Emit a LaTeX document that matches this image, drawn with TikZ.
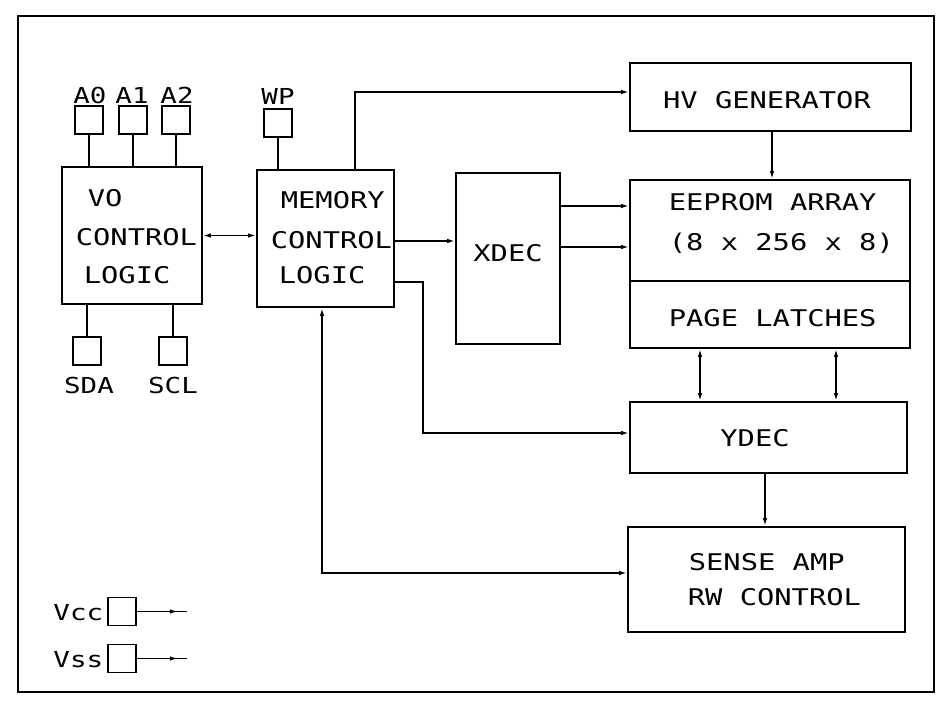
\documentclass[tikz,border=0pt]{standalone}
\usepackage{fontspec}
\newfontfamily\plotfont[FakeStretch=1.25]{DejaVu Sans Mono}
\usetikzlibrary{arrows.meta,decorations.markings}
\begin{document}
\begin{tikzpicture}[x=1pt,y=-1pt,
  line width=1.7pt,
  blk/.style={draw,rectangle,inner sep=0pt},
  pad/.style={draw,rectangle,inner sep=0pt,minimum width=28pt,minimum height=28pt},
  txt/.style={inner sep=0pt,text height=16.5pt,text depth=0pt,font=\plotfont\fontsize{23}{27}\selectfont},
  lbl/.style={inner sep=0pt,text height=16pt,text depth=0pt,font=\plotfont\fontsize{22}{26}\selectfont},
  arr/.style={-{Latex[length=8pt,width=4.5pt]}},
  barr/.style={{Latex[length=8pt,width=4.5pt]}-{Latex[length=8pt,width=4.5pt]}},
  midarr/.style={postaction={decorate},decoration={markings,mark=at position 0.82 with {\arrow{Latex[length=8pt,width=4.5pt]}}}}]
\useasboundingbox (0,0) rectangle (937,704);
\fill[white] (0,0) rectangle (937,704);
% outer frame
\draw (18,16) rectangle (934,692);

% blocks
\node[blk,minimum width=140pt,minimum height=137pt] (vo) at (132,235.5) {};
\node[blk,minimum width=137pt,minimum height=137pt] (mcl) at (325.5,238.5) {};
\node[blk,minimum width=104pt,minimum height=171pt] (xdec) at (508,258.5) {};
\node[blk,minimum width=281pt,minimum height=68pt] (hv) at (770.5,97) {};
\node[blk,minimum width=280pt,minimum height=101pt] (eep) at (770,230.5) {};
\node[blk,minimum width=280pt,minimum height=67pt] (pl) at (770,314.5) {};
\node[blk,minimum width=277pt,minimum height=71pt] (ydec) at (768.5,437.5) {};
\node[blk,minimum width=277pt,minimum height=105pt] (sense) at (766.5,579.5) {};

% pads
\node[pad] (a0) at (89,120) {};
\node[pad] (a1) at (133,120) {};
\node[pad] (a2) at (176,120) {};
\node[pad] (wp) at (278,123) {};
\node[pad] (sda) at (87,351) {};
\node[pad] (scl) at (173,351) {};
\node[pad] (vcc) at (122,611.5) {};
\node[pad] (vss) at (122,658.5) {};

% texts
\node[txt,anchor=west] (t1) at (87,198) {VO};
\node[txt,anchor=west] (t2) at (75,237) {CONTROL};
\node[txt,anchor=west] (t3) at (83,275) {LOGIC};
\node[txt,anchor=west] (t4) at (280,200) {MEMORY};
\node[txt,anchor=west] (t5) at (270,240) {CONTROL};
\node[txt,anchor=west] (t6) at (278,275) {LOGIC};
\node[txt] (t7) at (508,253) {XDEC};
\node[txt] (t8) at (767,100) {HV GENERATOR};
\node[txt,anchor=west] (t9) at (668,202) {EEPROM ARRAY};
\node[txt,anchor=west] (t10) at (668,242) {(8 x 256 x 8)};
\node[txt,anchor=west] (t11) at (668,318) {PAGE LATCHES};
\node[txt] (t12) at (755,438) {YDEC};
\node[txt,anchor=west] (t13) at (688,562) {SENSE AMP};
\node[txt,anchor=west] (t14) at (687,597) {RW CONTROL};
\node[lbl] (la0) at (90,95) {A0};
\node[lbl] (la1) at (132,95) {A1};
\node[lbl] (la2) at (177,95) {A2};
\node[lbl] (lwp) at (278,96) {WP};
\node[lbl] (lsda) at (89,385) {SDA};
\node[lbl] (lscl) at (173,385) {SCL};
\node[lbl,anchor=east] (lvcc) at (104,612) {Vcc};
\node[lbl,anchor=east] (lvss) at (104,659) {Vss};

% helper coordinates
\coordinate (y92) at (0,92);
\coordinate (y206) at (0,206);
\coordinate (y247) at (0,247);
\coordinate (y241) at (0,241);
\coordinate (y282) at (0,282);
\coordinate (y433) at (0,433);
\coordinate (y573) at (0,573);
\coordinate (x355) at (355,0);
\coordinate (x772) at (772,0);
\coordinate (x700) at (700,0);
\coordinate (x836) at (836,0);
\coordinate (x423) at (423,0);
\coordinate (x765) at (765,0);
\coordinate (x322) at (322,0);
\coordinate (vccend) at (187,611.5);
\coordinate (vssend) at (187,658.5);

% pad wires
\draw (a0.south) -- (a0.south |- vo.north);
\draw (a1.south) -- (a1.south |- vo.north);
\draw (a2.south) -- (a2.south |- vo.north);
\draw (wp.south) -- (wp.south |- mcl.north);
\draw (sda.north) -- (sda.north |- vo.south);
\draw (scl.north) -- (scl.north |- vo.south);
\draw[midarr] (vcc.east) -- (vccend);
\draw[midarr] (vss.east) -- (vssend);

% connectors
\draw[barr] (vo.east) -- (vo.east -| mcl.west);
\draw[arr] (mcl.east |- y241) -- (xdec.west |- y241);
\draw[arr] (xdec.east |- y206) -- (eep.west |- y206);
\draw[arr] (xdec.east |- y247) -- (eep.west |- y247);
\draw[arr] (mcl.north -| x355) |- (hv.west |- y92);
\draw[arr] (hv.south -| x772) -- (eep.north -| x772);
\draw[barr] (pl.south -| x700) -- (ydec.north -| x700);
\draw[barr] (pl.south -| x836) -- (ydec.north -| x836);
\draw[arr] (mcl.east |- y282) -| (x423 |- y433) -- (ydec.west |- y433);
\draw[arr] (ydec.south -| x765) -- (sense.north -| x765);
\draw[barr] (mcl.south -| x322) |- (sense.west |- y573);
\end{tikzpicture}
\end{document}
